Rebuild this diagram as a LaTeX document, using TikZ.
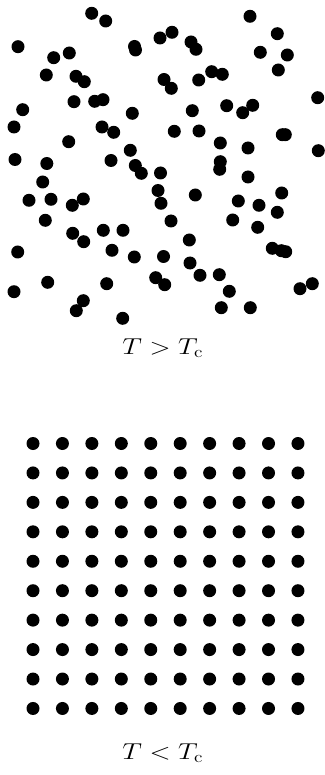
\RequirePackage{fix-cm}
\documentclass[tikz,border=0pt]{standalone}
\usepackage{graphicx}
\usepackage{tikz}

\begin{document}
\begin{tikzpicture}[
    x=1pt, y=-1pt,
    particle/.style={fill=black},
    phase/.style={anchor=base, font=\fontsize{23pt}{27pt}\selectfont}
]
    \useasboundingbox (0,0) rectangle (324,775);

    % disordered (gas / liquid) phase
    \foreach \px/\py in {
        91.7/13.3, 105.7/21, 18/46.7, 53.7/57.7, 69.3/53, 134.5/46.5, 135.5/50,
        160/38, 46.3/75, 76/76.3, 84.3/81.7, 164/79.5, 172/32.3, 191/42, 196/49.3,
        74/101.7, 94.7/101.3, 103/99.7, 22.7/109.7, 132.3/113.3, 14/127, 102/127,
        113.7/132.3, 68.7/141.7, 130.3/150.3, 15/159.5, 46.8/163.5, 111/160.5,
        135.3/165.5, 141.3/173.3,
        250/16.3, 277.3/33.7, 260.3/52.3, 287.3/55, 278.3/70, 211.7/71.7,
        222.3/74.3, 171.3/88.3, 198.7/80, 317.7/97.7, 226.7/105.7, 242.7/112.7,
        252.7/105.3, 192.3/110.7, 174.3/131.3, 199/131, 282.3/134.7, 285.3/134.7,
        220.3/143, 248/148, 318.3/150.7, 220.3/161.7, 219.7/169.3,
        42.7/182, 29/200.3, 51/199.3, 72.3/205.3, 83.3/199, 45.3/220.3,
        72.7/233.3, 83.7/241.7, 103.3/230.3, 123/230.3, 160.5/173, 158/190.5,
        161/203.3, 17.7/252, 112/250.3, 134.3/257, 163.5/256.5, 47.7/282.3,
        14/291.7, 106.7/283.7, 155.7/277.7, 164.7/284.7, 83.3/300.7, 76.3/310.7,
        122.7/318.3,
        248/177, 195.3/195, 281.7/193, 238.3/201, 259/205.3, 277.3/212.3,
        171/221, 232.7/220, 257.7/227.3, 189.3/240, 272.3/248.3, 281.3/250.7,
        285.7/251.7, 190/263, 200/275.3, 219.3/274.7, 229.3/291.3, 300/288.7,
        312.3/283.7, 221.3/307.7, 250.3/307.7}
        \fill[particle] (\px,\py) circle (6.5);

    \node[phase] (hot) at (162.7,354.5) {\scalebox{1.2}[1]{$T > T_\mathrm{c}$}};

    % ordered (crystal) phase
    \foreach \i in {0,...,9}
        \foreach \j in {0,...,9}
            \fill[particle] (33+29.44*\i, 443.5+29.44*\j) circle (6.5);

    \node[phase] (cold) at (162.7,759.5) {\scalebox{1.2}[1]{$T < T_\mathrm{c}$}};
\end{tikzpicture}
\end{document}
